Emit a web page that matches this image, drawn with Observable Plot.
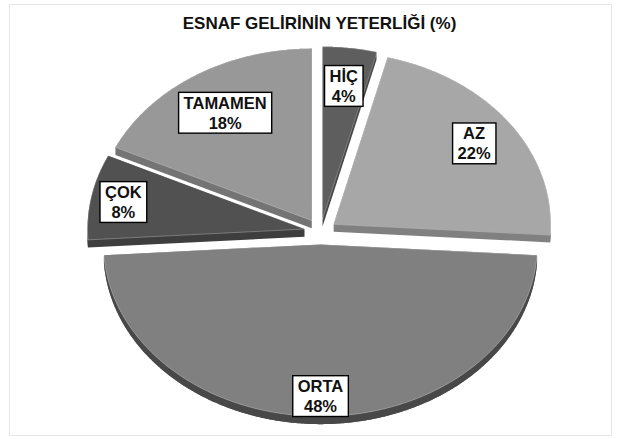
<!DOCTYPE html>
<html>
<head>
<meta charset="utf-8">
<script src="https://cdn.jsdelivr.net/npm/d3@7"></script>
<script src="https://cdn.jsdelivr.net/npm/@observablehq/plot@0.6"></script>
<style>
  body { margin: 0; background: #fff; }
  #wrap { position: relative; width: 619px; height: 439px; overflow: hidden; }
  #frame { position: absolute; left: 9px; top: 4px; width: 603px; height: 432px; border: 1px solid #e6e6e6; box-sizing: border-box; pointer-events: none; }
  #title { position: relative; height: 40px; width: 619px; box-sizing: border-box; padding-top: 14px; padding-left: 20px;
           text-align: center; font: bold 17px "Liberation Sans", Arial, sans-serif; line-height: 20px; color: #111; }
  #chart svg { display: block; }
</style>
</head>
<body>
<div id="wrap">
  <div id="frame"></div>
  <div id="title">ESNAF GELİRİNİN YETERLİĞİ (%)</div>
  <div id="chart"></div>
</div>
<script>
// ---- data ----
const categories = ["HİÇ", "AZ", "ORTA", "ÇOK", "TAMAMEN"];
const values = [4, 22, 48, 8, 18];
const colors = ["#5e5e5e", "#a7a7a7", "#808080", "#515151", "#989898"];
const labelRadius = [0.78, 0.80, 0.88, 0.85, 0.745];

// ---- geometry (unit pie, y up) ----
const explode = 0.075;
const depth = 0.045;
const step = Math.PI / 360;
const arcs = d3.pie().sort(null).value(d => d)(values);

function arcPts(a0, a1, ox, oy, dy = 0) {
  const pts = [];
  const n = Math.max(2, Math.ceil((a1 - a0) / step));
  for (let k = 0; k <= n; k++) {
    const a = a0 + (a1 - a0) * k / n;
    pts.push([ox + Math.sin(a), oy + Math.cos(a) + dy]);
  }
  return pts;
}

const slices = arcs.map((a, i) => {
  const m = (a.startAngle + a.endAngle) / 2;
  const ox = explode * Math.sin(m), oy = explode * Math.cos(m);
  const top = [[ox, oy], ...arcPts(a.startAngle, a.endAngle, ox, oy)];
  const hull = d3.polygonHull(top.concat(top.map(([x, y]) => [x, y - depth])));
  let wall = null;
  const w0 = Math.max(a.startAngle, Math.PI / 2), w1 = Math.min(a.endAngle, 3 * Math.PI / 2);
  if (w1 > w0) {
    const up = arcPts(w0, w1, ox, oy);
    const down = arcPts(w0, w1, ox, oy, -depth).reverse();
    wall = up.concat(down);
  }
  const base = d3.color(colors[i]);
  return {
    i, name: categories[i], value: values[i], m, ox, oy, top, hull, wall,
    fill: colors[i],
    side: base.darker(0.75).formatHex(),
    wallFill: base.darker(1.6).formatHex()
  };
});

// draw back to front
const order = slices.slice().sort((p, q) => q.oy - p.oy);
const X = d => d[0], Y = d => d[1];
const marks = [];
for (const s of order) {
  marks.push(Plot.line(s.hull, {x: X, y: Y, fill: s.side, stroke: "none", curve: "linear-closed"}));
  if (s.wall) marks.push(Plot.line(s.wall, {x: X, y: Y, fill: s.wallFill, stroke: "none", curve: "linear-closed"}));
  marks.push(Plot.line(s.top, {x: X, y: Y, fill: s.fill, stroke: "#ffffff", strokeOpacity: 0.35, strokeWidth: 0.8, curve: "linear-closed"}));
}

const labels = slices.map(s => ({
  x: s.ox + labelRadius[s.i] * Math.sin(s.m),
  y: s.oy + labelRadius[s.i] * Math.cos(s.m),
  text: `${s.name}\n${s.value}%`
}));
marks.push(Plot.text(labels, {
  x: "x", y: "y", text: "text",
  fontWeight: "bold", fontSize: 16.5, lineHeight: 1.2, fill: "#111"
}));

const cx = 320, cy = 191, rx = 217, ry = 172;
const svg = Plot.plot({
  width: 619,
  height: 399,
  margin: 0,
  style: {fontFamily: "'Liberation Sans', Arial, sans-serif", background: "transparent", overflow: "visible"},
  x: {domain: [-1, 1], range: [cx - rx, cx + rx], axis: null},
  y: {domain: [-1, 1], range: [cy + ry, cy - ry], axis: null},
  marks
});
document.getElementById("chart").append(svg);

// white boxes with black border behind labels
const ns = "http://www.w3.org/2000/svg";
svg.querySelectorAll('g[aria-label="text"] text').forEach(t => {
  const b = t.getBBox();
  const r = document.createElementNS(ns, "rect");
  r.setAttribute("x", b.x - 5);
  r.setAttribute("y", b.y - 1.5);
  r.setAttribute("width", b.width + 10);
  r.setAttribute("height", b.height + 3);
  r.setAttribute("fill", "#fff");
  r.setAttribute("stroke", "#000");
  r.setAttribute("stroke-width", 1.4);
  const tr = t.getAttribute("transform");
  if (tr) r.setAttribute("transform", tr);
  t.parentNode.insertBefore(r, t);
});
</script>
</body>
</html>
